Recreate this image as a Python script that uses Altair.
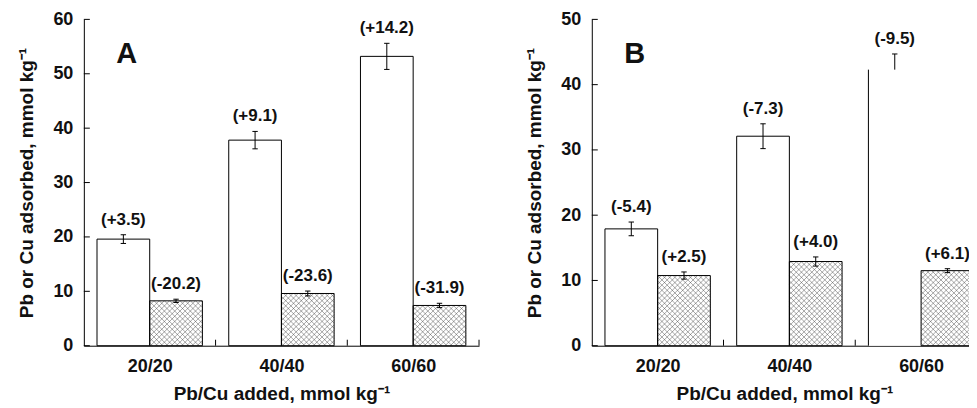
import json
import altair as alt
import pandas as pd

# ---------------- data ----------------
categories = ["20/20", "40/40", "60/60"]

# Panel A
a_pb = [19.6, 37.8, 53.2]
a_pb_err_hi = [0.8, 1.6, 2.4]
a_pb_err_lo = [0.8, 1.6, 2.4]
a_cu = [8.25, 9.6, 7.4]
a_cu_err = [0.3, 0.45, 0.4]
a_pb_labels = ["(+3.5)", "(+9.1)", "(+14.2)"]
a_cu_labels = ["(-20.2)", "(-23.6)", "(-31.9)"]
a_y_ticks = [0, 10, 20, 30, 40, 50, 60]

# Panel B
b_pb = [17.9, 32.1, 42.3]
b_pb_err_hi = [1.05, 1.9, 2.4]
b_pb_err_lo = [1.05, 1.9, 0.0]   # lower half not visible in the figure
b_cu = [10.75, 12.9, 11.5]
b_cu_err = [0.55, 0.7, 0.3]
b_pb_labels = ["(-5.4)", "(-7.3)", "(-9.5)"]
b_cu_labels = ["(+2.5)", "(+4.0)", "(+6.1)"]
b_y_ticks = [0, 10, 20, 30, 40, 50]

# ---------------- layout / style constants ----------------
FONT = "Liberation Sans"
PLOT_H = 327
A_W = 396
KX = A_W / 3.0              # px per category
B_W = 386
B_XMAX = B_W / KX
BAR_W = 0.4
BAR_OFF = 0.1
HATCH_S = 5.2
TICK_LEN = 6
CAP_HALF = 2.7
TXT = "#111111"


def make_table(pb, pb_lo, pb_hi, pb_lab, cu, cu_err, cu_lab, partial=None):
    rows = []
    for i, c in enumerate(categories):
        for metal, v, lo, hi, lab, left in [
            ("Pb", pb[i], pb_lo[i], pb_hi[i], pb_lab[i], i + BAR_OFF),
            ("Cu", cu[i], cu_err[i], cu_err[i], cu_lab[i], i + BAR_OFF + BAR_W),
        ]:
            rows.append(dict(cat=c, metal=metal, value=v, lo=v - lo, hi=v + hi,
                             has_lo=lo > 0, lab=lab, left=left,
                             full=not (partial == (c, metal))))
    df = pd.DataFrame(rows)
    df["right"] = df["left"] + BAR_W
    df["mid"] = df["left"] + BAR_W / 2
    df["base"] = 0.0
    df["cx0"] = df["mid"] - CAP_HALF / KX
    df["cx1"] = df["mid"] + CAP_HALF / KX
    return df


def panel(df, y_ticks, ymax, width, xmax, letter):
    ky = PLOT_H / ymax
    wpx = BAR_W * KX
    xs = alt.Scale(domain=[0, xmax], nice=False, zero=False)
    ys = alt.Scale(domain=[0, ymax], nice=False)
    x_axis = alt.Axis(
        values=[i + 0.5 for i in range(len(categories))],
        labelExpr=json.dumps(categories) + "[floor(datum.value)]",
        ticks=False, tickSize=0, grid=False, labelFlush=False,
        labelOverlap=False, labelPadding=12,
        title="Pb/Cu added, mmol kg\u207b\u00b9", titlePadding=9,
    )
    y_axis = alt.Axis(
        values=y_ticks, format="d", ticks=False, tickSize=0, grid=False,
        labelPadding=11, title="Pb or Cu adsorbed, mmol kg\u207b\u00b9",
        titlePadding=16,
    )

    def X(f):
        return alt.X(f, type="quantitative", scale=xs, axis=x_axis)

    def Y(f):
        return alt.Y(f, type="quantitative", scale=ys, axis=y_axis)

    base = alt.Chart(df)

    fill = base.mark_rect(fill="white", strokeWidth=0).encode(
        x=X("left"), x2="right", y=Y("base"), y2="value")

    hatch = (
        base.transform_filter("datum.metal == 'Cu'")
        .transform_calculate(H=f"datum.value * {ky}")
        .transform_calculate(fam="[1, -1]")
        .transform_flatten(["fam"])
        .transform_calculate(
            c=f"datum.fam > 0 ? sequence({-wpx}, datum.H, {HATCH_S}) : "
              f"sequence({HATCH_S / 2}, {wpx} + datum.H, {HATCH_S})")
        .transform_flatten(["c"])
        .transform_calculate(
            xp0="datum.fam > 0 ? max(0, -datum.c) : max(0, datum.c - datum.H)")
        .transform_calculate(
            xp1=f"datum.fam > 0 ? min({wpx}, datum.H - datum.c) : min({wpx}, datum.c)")
        .transform_filter("datum.xp1 > datum.xp0")
        .transform_calculate(
            yp0="datum.fam > 0 ? datum.xp0 + datum.c : datum.c - datum.xp0")
        .transform_calculate(
            yp1="datum.fam > 0 ? datum.xp1 + datum.c : datum.c - datum.xp1")
        .transform_calculate(hx0=f"datum.left + datum.xp0 / {KX}")
        .transform_calculate(hx1=f"datum.left + datum.xp1 / {KX}")
        .transform_calculate(hy0=f"datum.yp0 / {ky}")
        .transform_calculate(hy1=f"datum.yp1 / {ky}")
        .mark_rule(stroke="#3a3a3a", strokeWidth=0.9, opacity=0.5)
        .encode(x=X("hx0"), x2="hx1", y=Y("hy0"), y2="hy1")
    )

    outline = base.transform_filter("datum.full").mark_rect(
        fill="white", fillOpacity=0, stroke="black", strokeWidth=1
    ).encode(x=X("left"), x2="right", y=Y("base"), y2="value")

    edge = base.transform_filter("!datum.full").mark_rule(
        color="black", strokeWidth=1
    ).encode(x=X("left"), y=Y("base"), y2="value")

    err = base.mark_rule(color="black", strokeWidth=1).encode(
        x=X("mid"), y=Y("lo"), y2="hi")
    cap_hi = base.mark_rule(color="black", strokeWidth=1).encode(
        x=X("cx0"), x2="cx1", y=Y("hi"))
    cap_lo = base.transform_filter("datum.has_lo").mark_rule(
        color="black", strokeWidth=1).encode(x=X("cx0"), x2="cx1", y=Y("lo"))

    labels = base.mark_text(
        font=FONT, fontWeight="bold", fontSize=17, dy=-10,
        baseline="alphabetic", color=TXT
    ).encode(x=X("mid"), y=Y("hi"), text="lab:N")

    ytick = alt.Chart(pd.DataFrame({"t": y_ticks})).mark_rule(
        color="black", strokeWidth=1
    ).encode(y=Y("t"), x=alt.value(0), x2=alt.value(TICK_LEN))

    edges = [i + 1 for i in range(len(categories)) if i + 1 <= xmax + 1e-9]
    xtick = alt.Chart(pd.DataFrame({"t": edges})).mark_rule(
        color="black", strokeWidth=1
    ).encode(x=X("t"), y=alt.value(PLOT_H), y2=alt.value(PLOT_H - TICK_LEN))

    let = alt.Chart(pd.DataFrame({"t": [letter]})).mark_text(
        font=FONT, fontWeight="bold", fontSize=29, baseline="alphabetic",
        align="center", color=TXT
    ).encode(text="t:N", x=alt.value(43), y=alt.value(44))

    return alt.layer(fill, hatch, outline, edge, err, cap_hi, cap_lo,
                     labels, ytick, xtick, let).properties(
        width=width, height=PLOT_H)


df_a = make_table(a_pb, a_pb_err_lo, a_pb_err_hi, a_pb_labels,
                  a_cu, a_cu_err, a_cu_labels)
df_b = make_table(b_pb, b_pb_err_lo, b_pb_err_hi, b_pb_labels,
                  b_cu, b_cu_err, b_cu_labels, partial=("60/60", "Pb"))

chart_a = panel(df_a, a_y_ticks, 60, A_W, 3.0, "A")
chart_b = panel(df_b, b_y_ticks, 50, B_W, B_XMAX, "B")

chart = (
    alt.hconcat(chart_a, chart_b, spacing=45)
    .properties(padding={"left": 9, "top": 2, "right": -8, "bottom": 0},
                background="white")
    .configure_view(stroke=None)
    .configure_axis(
        domainColor="black", domainWidth=1,
        labelFont=FONT, labelFontWeight="bold", labelFontSize=18,
        labelColor=TXT,
        titleFont=FONT, titleFontWeight="bold", titleFontSize=19,
        titleColor=TXT,
    )
)

chart.save("out.html", embed_options={"renderer": "svg", "actions": False})
